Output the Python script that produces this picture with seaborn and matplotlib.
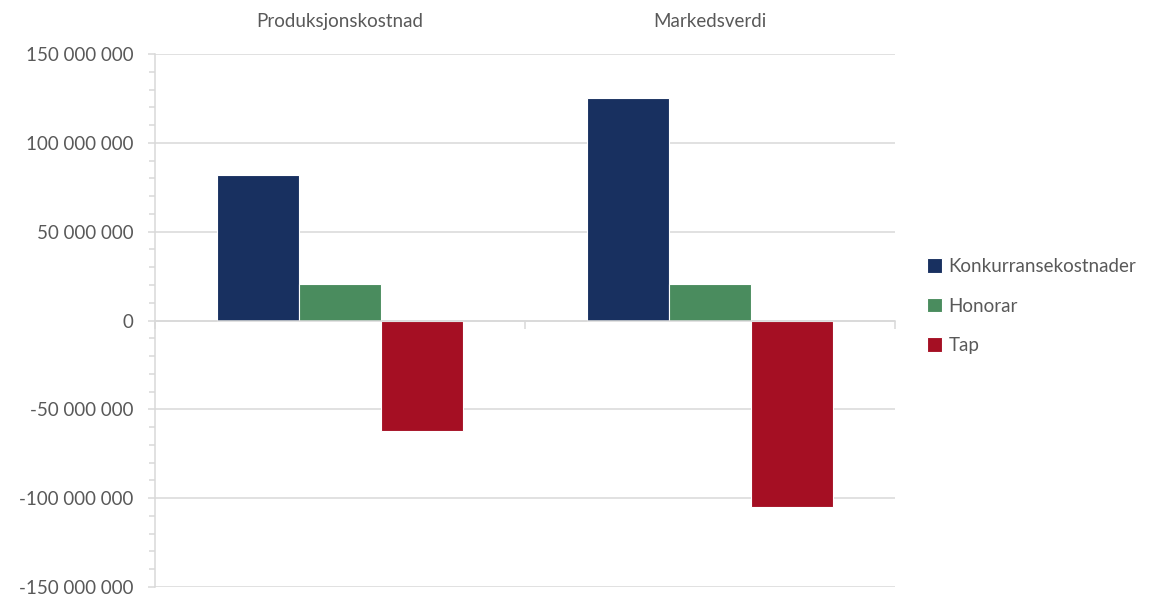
import numpy as np
import pandas as pd
import matplotlib
matplotlib.use("Agg")
import matplotlib.pyplot as plt
import seaborn as sns
from matplotlib.ticker import MultipleLocator, FuncFormatter, FixedLocator

# Data
categories = ["Produksjonskostnad", "Markedsverdi"]
series = ["Konkurransekostnader", "Honorar", "Tap"]
konkurransekostnader = [82_000_000, 125_000_000]
honorar = [20_600_000, 20_600_000]
tap = [-62_000_000, -105_000_000]
colors = ["#183060", "#4A8C5E", "#A50F23"]

df = pd.DataFrame({
    "kategori": categories * len(series),
    "serie": np.repeat(series, len(categories)),
    "verdi": konkurransekostnader + honorar + tap,
})

sns.set_theme(style="white")
plt.rcParams["font.family"] = ["Lato", "DejaVu Sans"]

text_color = "#595959"
grid_color = "#D9D9D9"
font_size = 13.5

W, H = 1155, 596
fig = plt.figure(figsize=(W / 100, H / 100), dpi=100)
ax = fig.add_axes([155 / W, 1 - 587 / H, (895 - 155) / W, (587 - 54) / H])

sns.barplot(
    data=df, x="kategori", y="verdi", hue="serie",
    order=categories, hue_order=series, palette=colors,
    width=0.667, saturation=1, errorbar=None,
    edgecolor="white", linewidth=0.8, ax=ax, zorder=2,
)

ax.set_xlim(-0.5, 1.5)
ax.set_ylim(-150_000_000, 150_000_000)
ax.set_xlabel("")
ax.set_ylabel("")

# Value axis
ax.yaxis.set_major_locator(MultipleLocator(50_000_000))
ax.yaxis.set_minor_locator(MultipleLocator(10_000_000))
ax.yaxis.set_major_formatter(FuncFormatter(lambda v, _: f"{v:,.0f}".replace(",", " ")))
ax.yaxis.grid(True, which="major", color=grid_color, linewidth=1.1)
ax.set_axisbelow(True)
ax.tick_params(axis="y", which="major", left=True, length=5.4, width=1.1,
               color=grid_color, labelcolor=text_color, labelsize=font_size, pad=10)
ax.tick_params(axis="y", which="minor", left=True, length=4, width=1.1, color=grid_color)

# Category axis: labels on top, boundary ticks on the zero line
ax.xaxis.set_minor_locator(FixedLocator([-0.5, 0.5, 1.5]))
ax.tick_params(axis="x", which="major", bottom=False, top=False,
               labelbottom=False, labeltop=True, labelcolor=text_color,
               labelsize=font_size, pad=11)
ax.tick_params(axis="x", which="minor", bottom=True, top=False,
               length=5.4, width=1.1, color=grid_color, direction="out")

for side in ("top", "right"):
    ax.spines[side].set_visible(False)
ax.spines["left"].set_color(grid_color)
ax.spines["left"].set_linewidth(1.1)
ax.spines["bottom"].set_position(("data", 0))
ax.spines["bottom"].set_color(grid_color)
ax.spines["bottom"].set_linewidth(1.1)
ax.spines["bottom"].set_zorder(3)

# Legend to the right of the plot
handles, labels = ax.get_legend_handles_labels()
ax.get_legend().remove()
leg = fig.legend(
    handles, labels, loc="center left", bbox_to_anchor=(910 / W, 1 - 306 / H),
    frameon=False, handlelength=0.8, handleheight=0.8, handletextpad=0.35,
    labelspacing=1.2, fontsize=font_size,
)
for t in leg.get_texts():
    t.set_color(text_color)

fig.savefig("out.png", dpi=100)
